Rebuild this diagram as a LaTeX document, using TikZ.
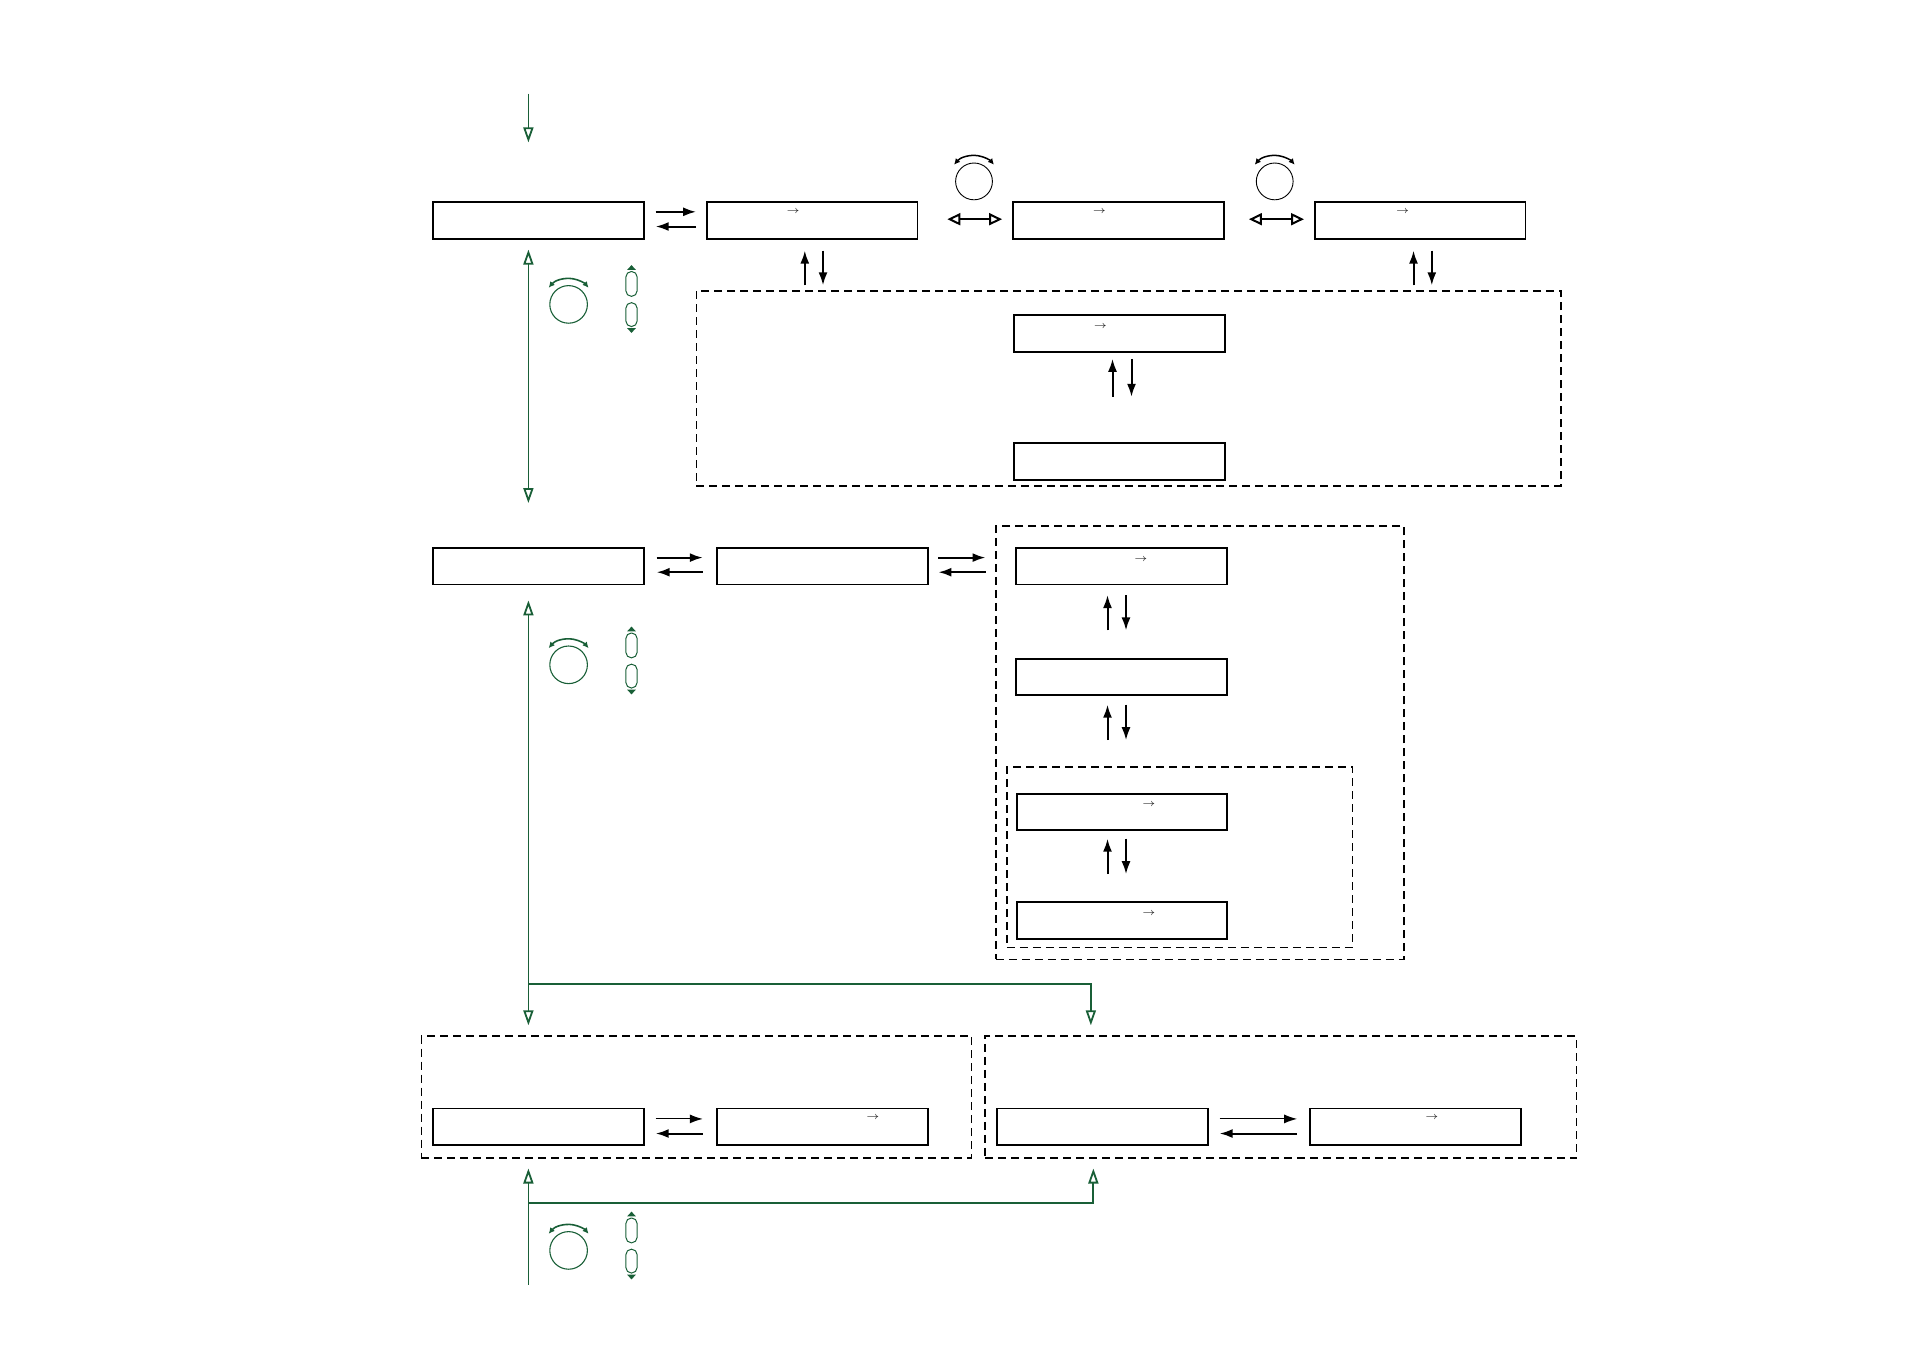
\documentclass[tikz,border=0pt]{standalone}
\usetikzlibrary{arrows.meta,calc}
\definecolor{grn}{RGB}{25,95,55}
\tikzset{
  knobk/.pic={
    \draw[line width=0.45pt] (0,0) circle[radius=9.2pt];
    \draw[line width=0.75pt,{Latex[length=3pt,width=3pt]}-{Latex[length=3pt,width=3pt]}] (140:13pt) arc[start angle=140,end angle=40,radius=13pt];
  },
  knobg/.pic={
    \draw[grn,line width=0.55pt] (0,0) circle[radius=9.4pt];
    \draw[grn,line width=0.8pt,{Latex[length=3pt,width=3pt]}-{Latex[length=3pt,width=3pt]}] (140:13pt) arc[start angle=140,end angle=40,radius=13pt];
  },
  capsule/.pic={
    \draw[grn,line width=0.5pt,rounded corners=2.7pt] (-2.8pt,1.6pt) rectangle (2.8pt,14pt);
    \draw[grn,line width=0.5pt,rounded corners=2.7pt] (-2.8pt,-1.6pt) rectangle (2.8pt,-13.5pt);
    \fill[grn] (-2.2pt,14.8pt) -- (2.2pt,14.8pt) -- (0,17.2pt) -- cycle;
    \fill[grn] (-2.2pt,-14.3pt) -- (2.2pt,-14.3pt) -- (0,-16.7pt) -- cycle;
  }
}
\begin{document}
\begin{tikzpicture}[x=0.5pt,y=-0.5pt,
  box/.style={draw,line width=0.9pt,minimum width=105.3pt,minimum height=18.3pt,inner sep=0pt},
  grp/.style={draw,line width=0.7pt,dash pattern=on 4pt off 2.5pt,inner sep=0pt},
  glyph/.style={inner sep=0pt,font=\fontsize{5}{5}\selectfont,text=black!85},
  fwd/.style={line width=1pt,-{Latex[length=6.5pt,width=4.5pt]}},
  fwdthin/.style={line width=0.55pt,-{Latex[length=6.5pt,width=4.5pt]}},
  dblopen/.style={line width=1pt,{Triangle[open,length=6.5pt,width=6pt]}-{Triangle[open,length=6.5pt,width=6pt]}},
  garr/.style={grn,line width=0.9pt,-{Triangle[open,length=7.5pt,width=5pt]}},
  gback/.style={grn,line width=0.9pt,{Triangle[open,length=7.5pt,width=5pt]}-},
  gdbl/.style={grn,line width=0.9pt,{Triangle[open,length=7.5pt,width=5pt]}-{Triangle[open,length=7.5pt,width=5pt]}}
]
\useasboundingbox (0,0) rectangle (1909,1350);

% dashed groups
\node[grp,minimum width=432.2pt,minimum height=97.4pt] (grpA) at (1128.6,388.4) {};
\node[grp,minimum width=203.95pt,minimum height=216.7pt] (grpB) at (1199.85,742.7) {};
\node[grp,minimum width=172.85pt,minimum height=90.1pt] (grpBin) at (1179.75,857.1) {};
\node[grp,minimum width=275.15pt,minimum height=60.9pt] (grpC) at (696.45,1096.9) {};
\node[grp,minimum width=295.85pt,minimum height=60.9pt] (grpD) at (1280.85,1096.9) {};

% row 1
\node[box] (A1) at (538.5,220.4) {};
\node[box] (B1) at (812.1,220.4) {};
\node[box] (C1) at (1118.3,220.4) {};
\node[box] (D1) at (1420.2,220.4) {};
\node[glyph] (B1g) at ($(B1)+(-19,-8.6)$) {$\rightarrow$};
\node[glyph] (C1g) at ($(C1)+(-19,-8.6)$) {$\rightarrow$};
\node[glyph] (D1g) at ($(D1)+(-17.6,-8.6)$) {$\rightarrow$};

\node[box] (E1) at (1119.5,333.6) {};
\node[box] (E2) at (1119.5,461.5) {};
\node[glyph] (E1g) at ($(E1)+(-19,-7.3)$) {$\rightarrow$};

% row 2
\node[box] (A2) at (538.5,566.2) {};
\node[box] (B2) at (822.4,566.2) {};
\node[box] (C2) at (1121.3,566.2) {};
\node[box] (C3) at (1121.3,677) {};
\node[box] (C4) at (1121.9,812) {};
\node[box] (C5) at (1121.9,920.5) {};
\node[glyph] (C2g) at ($(C2)+(19.7,-7)$) {$\rightarrow$};
\node[glyph] (C4g) at ($(C4)+(27,-7.7)$) {$\rightarrow$};
\node[glyph] (C5g) at ($(C5)+(27,-7)$) {$\rightarrow$};

% row 3
\node[box] (F1) at (538.5,1126.8) {};
\node[box] (F2) at (822.4,1126.8) {};
\node[box] (G1) at (1102.5,1126.8) {};
\node[box] (G2) at (1415.4,1126.8) {};
\node[glyph] (F2g) at ($(F2)+(50.6,-9)$) {$\rightarrow$};
\node[glyph] (G2g) at ($(G2)+(16.4,-9)$) {$\rightarrow$};

% black connectors row 1
\draw[fwd] ($(A1.east)+(11,-8.6)$) -- ($(B1.west)+(-9.8,-8.6)$);
\draw[fwd] ($(B1.west)+(-9.8,6.1)$) -- ($(A1.east)+(11,6.1)$);
\draw[dblopen] ($(B1.east)+(29,-1.2)$) -- ($(C1.west)+(-10,-1.2)$);
\draw[dblopen] ($(C1.east)+(24.4,-1.2)$) -- ($(D1.west)+(-10,-1.2)$);
\draw[fwd] ($(grpA.north -| B1.south)+(-7.3,-5)$) -- ($(B1.south)+(-7.3,11)$);
\draw[fwd] ($(B1.south)+(10.9,11)$) -- ($(grpA.north -| B1.south)+(10.9,-5)$);
\draw[fwd] ($(grpA.north -| D1.south)+(-6.7,-5)$) -- ($(D1.south)+(-6.7,11)$);
\draw[fwd] ($(D1.south)+(11.6,11)$) -- ($(grpA.north -| D1.south)+(11.6,-5)$);
\draw[fwd] ($(E1.south)+(-7,44)$) -- ($(E1.south)+(-7,6)$);
\draw[fwd] ($(E1.south)+(12,6)$) -- ($(E1.south)+(12,44)$);

% row 2 connectors
\draw[fwd] ($(A2.east)+(12,-8.6)$) -- ($(B2.west)+(-13.4,-8.6)$);
\draw[fwd] ($(B2.west)+(-13.4,6)$) -- ($(A2.east)+(12,6)$);
\draw[fwd] ($(B2.east)+(9.8,-8.6)$) -- ($(grpB.west |- B2.east)+(-9.7,-8.6)$);
\draw[fwd] ($(grpB.west |- B2.east)+(-9.7,6)$) -- ($(B2.east)+(9.8,6)$);
\draw[fwd] ($(C2.south)+(-13.8,45)$) -- ($(C2.south)+(-13.8,9.7)$);
\draw[fwd] ($(C2.south)+(4.7,9.7)$) -- ($(C2.south)+(4.7,45)$);
\draw[fwd] ($(C3.south)+(-13.8,44)$) -- ($(C3.south)+(-13.8,8.5)$);
\draw[fwd] ($(C3.south)+(4.7,8.5)$) -- ($(C3.south)+(4.7,44)$);
\draw[fwd] ($(C4.south)+(-14.4,43)$) -- ($(C4.south)+(-14.4,7.5)$);
\draw[fwd] ($(C4.south)+(4.1,7.5)$) -- ($(C4.south)+(4.1,43)$);

% row 3 connectors
\draw[fwdthin] ($(F1.east)+(11,-7.9)$) -- ($(F2.west)+(-13.4,-7.9)$);
\draw[fwd] ($(F2.west)+(-13.4,6.7)$) -- ($(F1.east)+(11,6.7)$);
\draw[fwdthin] ($(G1.east)+(10.9,-7.9)$) -- ($(G2.west)+(-12.1,-7.9)$);
\draw[fwd] ($(G2.west)+(-12.1,6.7)$) -- ($(G1.east)+(10.9,6.7)$);

% knobs (black)
\pic at (974,181.4) {knobk};
\pic at (1274.7,181.4) {knobk};

% green navigation
\coordinate (gTop) at (528.4,93.7);
\coordinate (gTopEnd) at (528.4,142.4);
\draw[garr] (gTop) -- (gTopEnd);
\draw[gdbl] ($(A1.south)+(-10.1,10)$) -- ($(A2.north)+(-10.1,-44)$);
\draw[gdbl] ($(A2.south)+(-10.1,15)$) -- ($(grpC.north -| A2.south)+(-10.1,-10)$);
\coordinate (gBr) at (528.4,983.7);
\draw[garr] (gBr) -| ($(grpD.north)+(-190,-10)$);
\coordinate (gBot) at (528.4,1284.5);
\draw[gback] ($(grpC.south -| A2.south)+(-10.1,10)$) -- (gBot);
\coordinate (gBr2) at (528.4,1202.9);
\draw[garr] (gBr2) -| ($(grpD.south)+(-187.5,10)$);

\pic at (568.6,304.4) {knobg};
\pic at (568.6,664.8) {knobg};
\pic at (568.6,1250.4) {knobg};
\pic at (631.5,299.5) {capsule};
\pic at (631.5,661) {capsule};
\pic at (631.5,1246) {capsule};
\end{tikzpicture}
\end{document}
